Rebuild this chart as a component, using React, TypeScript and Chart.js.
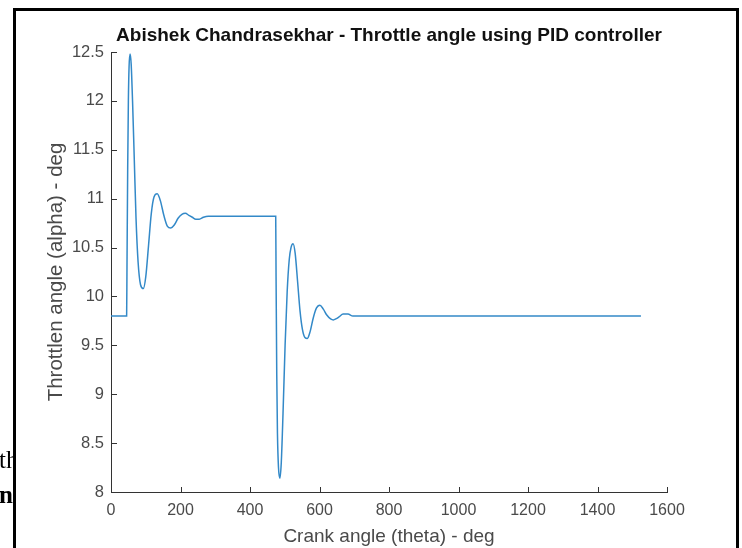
import React, { useEffect, useRef } from "react";
import { Chart, registerables } from "chart.js";

Chart.register(...registerables);

const titleText = "Abishek Chandrasekhar - Throttle angle using PID controller";
const xAxisLabel = "Crank angle (theta) - deg";
const yAxisLabel = "Throttlen angle (alpha) - deg";

const xTicks = [0, 200, 400, 600, 800, 1000, 1200, 1400, 1600];
const yTicks = [8, 8.5, 9, 9.5, 10, 10.5, 11, 11.5, 12, 12.5];

const crankAngle = [
  0, 45, 46, 48, 50, 52, 55, 58, 62, 67, 72, 78, 85, 93, 100, 108, 116, 124, 133,
  142, 152, 162, 172, 182, 193, 204, 214, 224, 234, 244, 254, 266, 280, 474,
  475, 477, 479, 482, 486, 490, 495, 501, 507, 513, 518, 524, 530, 537, 544, 551,
  558, 565, 573, 582, 591, 601, 611, 621, 632, 640, 647, 656, 668, 682, 696, 720,
  1525,
];
const throttleAngle = [
  9.8, 9.8, 10.3, 11.3, 12.0, 12.35, 12.48, 12.38, 12.0, 11.4, 10.8, 10.35, 10.12,
  10.08, 10.2, 10.52, 10.85, 11.02, 11.05, 10.98, 10.83, 10.72, 10.7, 10.73, 10.8,
  10.84, 10.85, 10.83, 10.81, 10.79, 10.79, 10.81, 10.82, 10.82,
  10.2, 9.2, 8.6, 8.25, 8.14, 8.3, 8.8, 9.5, 10.05, 10.38, 10.5, 10.54, 10.44,
  10.15, 9.85, 9.66, 9.58, 9.57, 9.64, 9.78, 9.88, 9.91, 9.87, 9.81, 9.77, 9.76,
  9.77, 9.79, 9.82, 9.82, 9.8, 9.8, 9.8,
];

const AXIS_COLOR = "#333333";
const TEXT_COLOR = "#4a4a4a";
const FONT = "'Liberation Sans', Arial, Helvetica, sans-serif";

const inwardTicks = {
  id: "inwardTicks",
  afterDraw(chart: any) {
    const { ctx, chartArea, scales } = chart;
    ctx.save();
    ctx.strokeStyle = AXIS_COLOR;
    ctx.lineWidth = 1;
    scales.x.ticks.forEach((t: any) => {
      const px = Math.round(scales.x.getPixelForValue(t.value)) + 0.5;
      ctx.beginPath();
      ctx.moveTo(px, chartArea.bottom);
      ctx.lineTo(px, chartArea.bottom - 5);
      ctx.stroke();
    });
    scales.y.ticks.forEach((t: any) => {
      const py = Math.round(scales.y.getPixelForValue(t.value)) + 0.5;
      ctx.beginPath();
      ctx.moveTo(chartArea.left, py);
      ctx.lineTo(chartArea.left + 6, py);
      ctx.stroke();
    });
    ctx.restore();
  },
};

export default function App() {
  const ref = useRef<HTMLCanvasElement | null>(null);

  useEffect(() => {
    if (!ref.current) return;
    const chart = new Chart(ref.current, {
      type: "line",
      data: {
        datasets: [
          {
            data: crankAngle.map((x, i) => ({ x, y: throttleAngle[i] })),
            borderColor: "#3389c8",
            borderWidth: 1.5,
            pointRadius: 0,
            fill: false,
            cubicInterpolationMode: "monotone",
          },
        ],
      },
      options: {
        animation: false,
        responsive: false,
        devicePixelRatio: 1,
        layout: { padding: { left: 0, right: 75, top: 24.6, bottom: 0 } },
        plugins: {
          legend: { display: false },
          tooltip: { enabled: false },
          title: {
            display: true,
            text: titleText,
            fullSize: false,
            color: "#111111",
            font: { family: FONT, size: 19, weight: "bold" },
            padding: { top: 0, bottom: 4.6 },
          },
        },
        scales: {
          x: {
            type: "linear",
            min: 0,
            max: 1600,
            afterBuildTicks: (s: any) => {
              s.ticks = xTicks.map((v) => ({ value: v }));
            },
            afterFit: (s: any) => {
              s.height = 56;
            },
            grid: { display: false, drawTicks: false },
            border: { display: true, color: AXIS_COLOR, width: 1 },
            ticks: {
              color: TEXT_COLOR,
              font: { family: FONT, size: 16 },
              padding: 9,
              maxRotation: 0,
              callback: (v: any) => String(v),
            },
            title: {
              display: true,
              text: xAxisLabel,
              color: TEXT_COLOR,
              font: { family: FONT, size: 19 },
              padding: { top: 0, bottom: 0 },
            },
          },
          y: {
            type: "linear",
            min: 8,
            max: 12.5,
            afterBuildTicks: (s: any) => {
              s.ticks = yTicks.map((v) => ({ value: v }));
            },
            afterFit: (s: any) => {
              s.width = 111;
            },
            grid: { display: false, drawTicks: false },
            border: { display: true, color: AXIS_COLOR, width: 1 },
            ticks: {
              color: TEXT_COLOR,
              font: { family: FONT, size: 16.5 },
              padding: 7,
              callback: (v: any) => String(v),
            },
            title: {
              display: true,
              text: yAxisLabel,
              color: TEXT_COLOR,
              font: { family: FONT, size: 20.5 },
              padding: { top: 44.5, bottom: 0 },
            },
          },
        },
      },
      plugins: [inwardTicks],
    } as any);
    return () => chart.destroy();
  }, []);

  return (
    <div style={{ position: "fixed", left: 0, top: 0, width: 742, height: 548, background: "#fff", overflow: "hidden" }}>
      <canvas ref={ref} width={742} height={548} style={{ position: "absolute", left: 0, top: 0 }} />
      <div
        style={{
          position: "absolute",
          left: 13,
          top: 8,
          width: 726,
          height: 600,
          boxSizing: "border-box",
          border: "3px solid #000",
          borderBottom: "none",
          pointerEvents: "none",
        }}
      />
      <div
        style={{
          position: "absolute",
          left: 0,
          top: 440,
          width: 13,
          height: 80,
          overflow: "hidden",
          fontFamily: "'Liberation Serif', 'Times New Roman', serif",
          fontSize: 25,
          color: "#000",
        }}
      >
        <div style={{ position: "absolute", left: -1, top: 5, lineHeight: "30px", whiteSpace: "nowrap" }}>th</div>
        <div style={{ position: "absolute", left: -1, top: 40, lineHeight: "30px", fontWeight: "bold", whiteSpace: "nowrap" }}>n</div>
      </div>
    </div>
  );
}
